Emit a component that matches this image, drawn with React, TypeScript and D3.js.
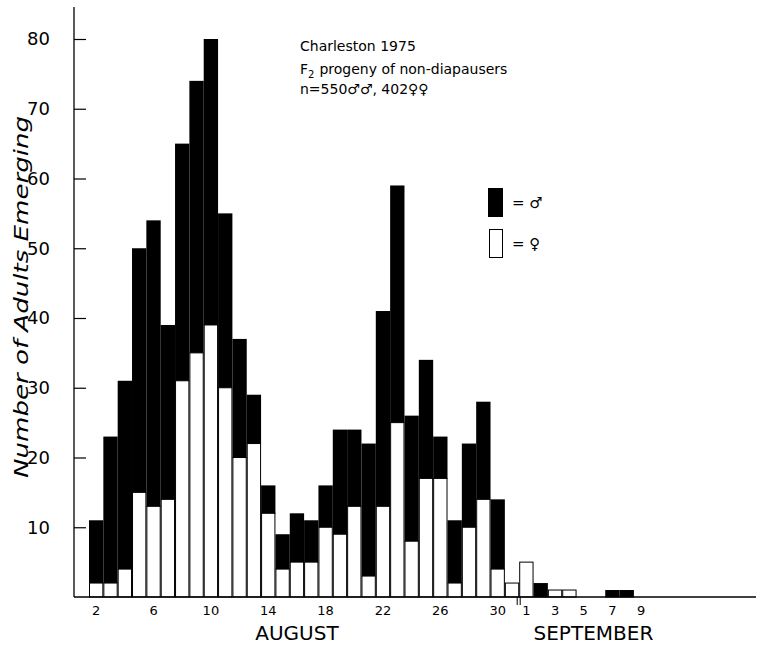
import * as d3 from "d3";
import { useEffect, useRef } from "react";

// Data: one bar per day, Aug 2 .. Sep 9
const days = [
  "Aug 2", "Aug 3", "Aug 4", "Aug 5", "Aug 6", "Aug 7", "Aug 8", "Aug 9", "Aug 10",
  "Aug 11", "Aug 12", "Aug 13", "Aug 14", "Aug 15", "Aug 16", "Aug 17", "Aug 18",
  "Aug 19", "Aug 20", "Aug 21", "Aug 22", "Aug 23", "Aug 24", "Aug 25", "Aug 26",
  "Aug 27", "Aug 28", "Aug 29", "Aug 30", "Aug 31",
  "Sep 1", "Sep 2", "Sep 3", "Sep 4", "Sep 5", "Sep 6", "Sep 7", "Sep 8", "Sep 9"
];
const females = [
  2, 2, 4, 15, 13, 14, 31, 35, 39, 30, 20, 22, 12, 4, 5, 5, 10, 9, 13, 3, 13, 25, 8,
  17, 17, 2, 10, 14, 4, 2,
  5, 0, 1, 1, 0, 0, 0, 0, 0
];
const males = [
  9, 21, 27, 35, 41, 25, 34, 39, 41, 25, 17, 7, 4, 5, 7, 6, 6, 15, 11, 19, 28, 34, 18,
  17, 6, 9, 12, 14, 10, 0,
  0, 2, 0, 0, 0, 0, 1, 1, 0
];

const tickDays = ["Aug 2", "Aug 6", "Aug 10", "Aug 14", "Aug 18", "Aug 22", "Aug 26", "Aug 30",
  "Sep 1", "Sep 3", "Sep 5", "Sep 7", "Sep 9"];
const tickLabels = ["2", "6", "10", "14", "18", "22", "26", "30", "1", "3", "5", "7", "9"];
const yTicks = [10, 20, 30, 40, 50, 60, 70, 80];

const notes = ["Charleston 1975", "progeny of non-diapausers", "n=550\u2642\u2642, 402\u2640\u2640"];

const FONT = "'DejaVu Sans', sans-serif";

const drawChart = (node: SVGSVGElement) => {
  const svg = d3.select(node);
  svg.selectAll("*").remove();

  const width = 759;
  const height = 646;
  const axisX = 74;
  const baseY = 597;

  const data = days.map((d, i) => ({ day: d, female: females[i], male: males[i] }));

  const x = d3.scaleBand<string>()
    .domain(days)
    .range([89, 89 + days.length * 14.34])
    .padding(0);

  const y = d3.scaleLinear()
    .domain([0, 80])
    .range([baseY, 39]);

  const stack = d3.stack<any>().keys(["female", "male"]);
  const series = stack(data);

  svg.attr("width", width).attr("height", height)
    .style("background", "#fff");

  const g = svg.append("g");

  // male (black) on top of females
  g.append("g")
    .selectAll("rect")
    .data(series[1].filter(d => d.data.male > 0))
    .join("rect")
    .attr("x", d => x(d.data.day)!)
    .attr("width", x.bandwidth())
    .attr("y", d => y(d[1]))
    .attr("height", d => y(d[0]) - y(d[1]) + 0.5)
    .attr("fill", "#000");

  // female (white, outlined)
  g.append("g")
    .selectAll("rect")
    .data(series[0].filter(d => d.data.female > 0))
    .join("rect")
    .attr("x", d => x(d.data.day)! + 0.5)
    .attr("width", x.bandwidth() - 1)
    .attr("y", d => y(d[1]))
    .attr("height", d => y(d[0]) - y(d[1]))
    .attr("fill", "#fff")
    .attr("stroke", "#000")
    .attr("stroke-width", 1);

  // y axis
  const yAxis = d3.axisLeft(y)
    .tickValues(yTicks)
    .tickSize(-12)
    .tickPadding(24)
    .tickFormat(d3.format("d"));
  const yg = g.append("g")
    .attr("transform", `translate(${axisX},0)`)
    .call(yAxis);
  yg.select(".domain").remove();
  yg.selectAll("line").attr("stroke", "#000").attr("stroke-width", 1.2);
  yg.selectAll("text")
    .attr("font-family", FONT)
    .attr("font-size", 18)
    .attr("fill", "#000");

  g.append("line")
    .attr("x1", axisX).attr("x2", axisX)
    .attr("y1", y(84.6)).attr("y2", baseY)
    .attr("stroke", "#000").attr("stroke-width", 1.3);

  // baseline
  g.append("line")
    .attr("x1", axisX).attr("x2", 756)
    .attr("y1", baseY).attr("y2", baseY)
    .attr("stroke", "#000").attr("stroke-width", 1.3);

  // x axis labels
  const xAxis = d3.axisBottom(x)
    .tickValues(tickDays)
    .tickSize(0)
    .tickPadding(9)
    .tickFormat((d) => tickLabels[tickDays.indexOf(d)]);
  const xg = g.append("g")
    .attr("transform", `translate(0,${baseY})`)
    .call(xAxis);
  xg.select(".domain").remove();
  xg.selectAll("text")
    .attr("font-family", FONT)
    .attr("font-size", 13)
    .attr("fill", "#000");

  // month boundary mark
  const sepEdge = x("Sep 1")!;
  [-2, 1].forEach(off => {
    g.append("line")
      .attr("x1", sepEdge + off).attr("x2", sepEdge + off)
      .attr("y1", baseY).attr("y2", baseY + 8)
      .attr("stroke", "#000").attr("stroke-width", 1);
  });

  // month names
  g.append("text")
    .attr("x", x("Aug 16")! + x.bandwidth() / 2)
    .attr("y", baseY + 43)
    .attr("text-anchor", "middle")
    .attr("font-family", FONT)
    .attr("font-size", 20)
    .text("AUGUST");

  g.append("text")
    .attr("x", x("Sep 1")! + x.bandwidth())
    .attr("y", baseY + 43)
    .attr("font-family", FONT)
    .attr("font-size", 20)
    .text("SEPTEMBER");

  // y axis title
  g.append("text")
    .attr("transform", `translate(28,${297}) rotate(-90)`)
    .attr("text-anchor", "middle")
    .attr("font-family", FONT)
    .attr("font-style", "italic")
    .attr("font-size", 20)
    .attr("textLength", 362)
    .attr("lengthAdjust", "spacingAndGlyphs")
    .text("Number of Adults Emerging");

  // annotation
  g.append("text")
    .attr("x", 300).attr("y", 51)
    .attr("font-family", FONT).attr("font-size", 14)
    .text(notes[0]);
  const f2 = g.append("text")
    .attr("x", 300).attr("y", 74)
    .attr("font-family", FONT).attr("font-size", 14);
  f2.append("tspan").text("F");
  f2.append("tspan").attr("dy", 4).attr("font-size", 10).text("2");
  f2.append("tspan").attr("dy", -4).attr("dx", 5).text(notes[1]);
  g.append("text")
    .attr("x", 300).attr("y", 94)
    .attr("font-family", FONT).attr("font-size", 14)
    .text(notes[2]);

  // legend
  g.append("rect")
    .attr("x", 488).attr("y", 188).attr("width", 15).attr("height", 29)
    .attr("fill", "#000");
  g.append("text")
    .attr("x", 512).attr("y", 208)
    .attr("font-family", FONT).attr("font-size", 15)
    .text("= \u2642");
  g.append("rect")
    .attr("x", 489.5).attr("y", 229.5).attr("width", 13).attr("height", 28)
    .attr("fill", "#fff").attr("stroke", "#000").attr("stroke-width", 1);
  g.append("text")
    .attr("x", 512).attr("y", 249)
    .attr("font-family", FONT).attr("font-size", 15)
    .text("= \u2640");
};

export default function App() {
  const ref = useRef<SVGSVGElement>(null);

  useEffect(() => {
    if (ref.current) drawChart(ref.current);
  }, []);

  return (
    <svg ref={ref} style={{ position: "absolute", left: 0, top: 0, display: "block" }} />
  );
}
